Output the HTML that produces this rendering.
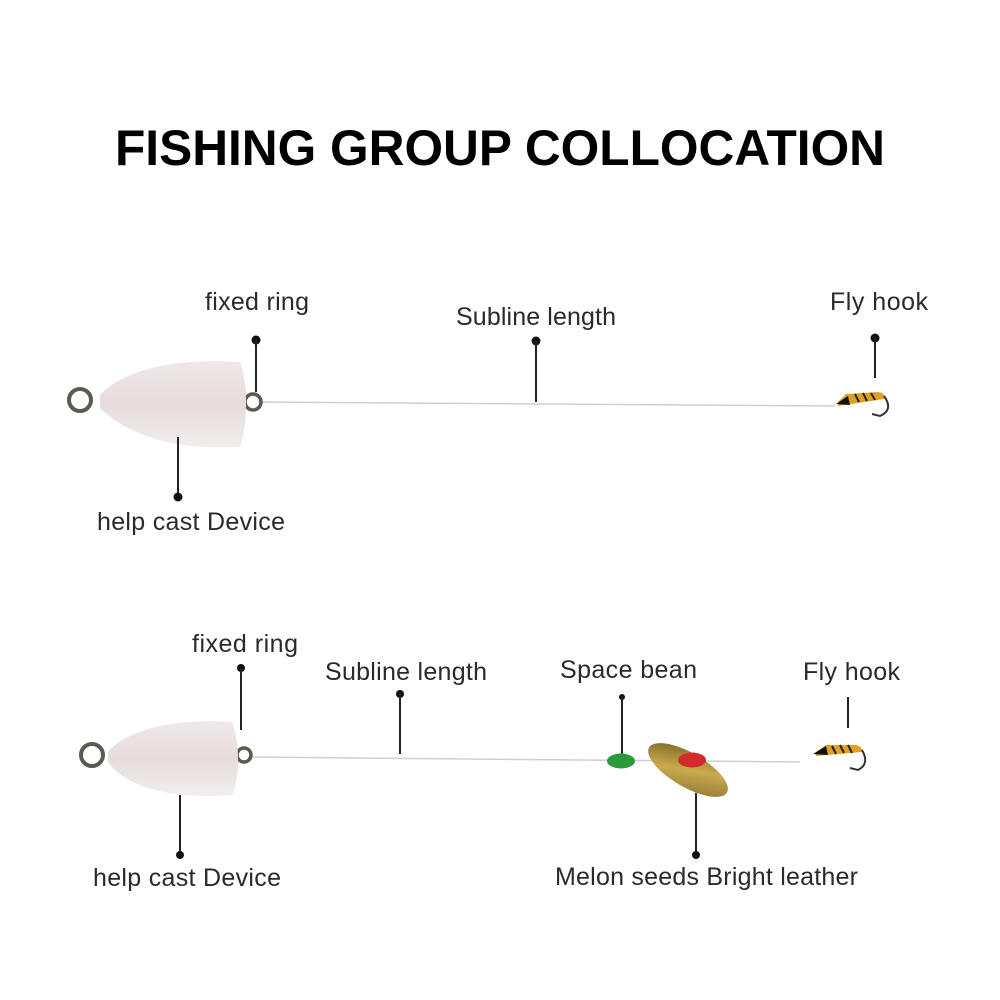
<!DOCTYPE html>
<html><head><meta charset="utf-8"><style>
html,body{margin:0;padding:0;background:#fff;}
svg{display:block}
.t{font-family:"Liberation Sans",sans-serif;font-size:25px;fill:#2a2a2a;font-weight:normal;}
.h{font-family:"Liberation Sans",sans-serif;font-size:50px;font-weight:bold;fill:#000;}
</style></head><body>
<svg width="1000" height="1000" viewBox="0 0 1000 1000" xmlns="http://www.w3.org/2000/svg">
<defs>
<linearGradient id="w" x1="0" y1="0" x2="0" y2="1">
<stop offset="0" stop-color="#efe8ea"/><stop offset="0.5" stop-color="#e6dcdc"/><stop offset="1" stop-color="#f2eeee"/></linearGradient>
<linearGradient id="g" x1="0" y1="0" x2="1" y2="1">
<stop offset="0" stop-color="#6f5a1e"/><stop offset="0.5" stop-color="#c9aa4e"/><stop offset="1" stop-color="#8a7030"/></linearGradient>
</defs>
<text class="h" x="500" y="165" text-anchor="middle" textLength="770" lengthAdjust="spacingAndGlyphs">FISHING GROUP COLLOCATION</text>

<!-- top group -->
<line x1="258" y1="402" x2="835" y2="406" stroke="#cfcfcf" stroke-width="1.5"/>
<circle cx="80" cy="400" r="11" fill="none" stroke="#5a5a50" stroke-width="4"/>
<circle cx="253" cy="402" r="8" fill="none" stroke="#5a5a50" stroke-width="3.5"/>
<path d="M100,395 C125,368 180,358 240,362 C248,380 248,425 240,447 C190,450 135,442 100,408 Z" fill="url(#w)"/>
<text class="t" x="205" y="310" textLength="104">fixed ring</text>
<circle cx="256" cy="340" r="4.5" fill="#111"/><line x1="256" y1="340" x2="256" y2="392" stroke="#222" stroke-width="2"/>
<text class="t" x="456" y="325" textLength="160">Subline length</text>
<circle cx="536" cy="341" r="4.5" fill="#111"/><line x1="536" y1="341" x2="536" y2="402" stroke="#222" stroke-width="2"/>
<text class="t" x="830" y="310" textLength="98">Fly hook</text>
<circle cx="875" cy="338" r="4.5" fill="#111"/><line x1="875" y1="338" x2="875" y2="378" stroke="#222" stroke-width="2"/>
<path d="M838,402 L846,394 L878,392 Q886,393 884,399 L838,406Z" fill="#e0a020"/>
<path d="M855,394 l4,8 M863,393 l4,8 M871,393 l4,7" stroke="#222" stroke-width="2"/>
<path d="M836,404 L848,396 L850,405Z" fill="#111"/>
<path d="M884,396 Q894,410 880,416 L872,414" fill="none" stroke="#333" stroke-width="2"/>
<line x1="178" y1="437" x2="178" y2="497" stroke="#222" stroke-width="2"/><circle cx="178" cy="497" r="4.5" fill="#111"/>
<text class="t" x="97" y="530" textLength="188">help cast Device</text>

<!-- bottom group -->
<line x1="248" y1="757" x2="800" y2="762" stroke="#cfcfcf" stroke-width="1.5"/>
<circle cx="92" cy="755" r="11" fill="none" stroke="#5a5a50" stroke-width="4"/>
<circle cx="244" cy="755" r="7" fill="none" stroke="#5a5a50" stroke-width="3.5"/>
<path d="M108,752 C128,728 180,718 232,722 C240,740 240,780 232,795 C180,800 128,790 108,762 Z" fill="url(#w)"/>
<text class="t" x="192" y="652" textLength="106">fixed ring</text>
<circle cx="241" cy="668" r="4" fill="#111"/><line x1="241" y1="668" x2="241" y2="730" stroke="#222" stroke-width="2"/>
<text class="t" x="325" y="680" textLength="162">Subline length</text>
<circle cx="400" cy="694" r="4" fill="#111"/><line x1="400" y1="694" x2="400" y2="754" stroke="#222" stroke-width="2"/>
<text class="t" x="560" y="678" textLength="137">Space bean</text>
<circle cx="622" cy="697" r="3" fill="#111"/><line x1="622" y1="697" x2="622" y2="755" stroke="#222" stroke-width="2"/>
<ellipse cx="621" cy="761" rx="14" ry="7.5" fill="#2a9a3a"/>
<ellipse cx="688" cy="770" rx="45" ry="17" transform="rotate(30 688 770)" fill="url(#g)"/>
<ellipse cx="692" cy="760" rx="14" ry="7.5" fill="#d42a2a"/>
<line x1="696" y1="793" x2="696" y2="855" stroke="#222" stroke-width="2"/><circle cx="696" cy="855" r="4" fill="#111"/>
<text class="t" x="555" y="885" textLength="303">Melon seeds Bright leather</text>
<text class="t" x="803" y="680" textLength="97">Fly hook</text>
<line x1="848" y1="697" x2="848" y2="728" stroke="#222" stroke-width="2"/>
<path d="M816,752 L826,745 L856,745 Q863,747 862,752 L816,756Z" fill="#e0a020"/>
<path d="M832,746 l4,8 M840,745 l4,8 M848,745 l4,8" stroke="#222" stroke-width="2"/>
<path d="M813,754 L826,746 L828,755Z" fill="#111"/>
<path d="M862,750 Q870,764 858,770 L850,768" fill="none" stroke="#333" stroke-width="2"/>
<line x1="180" y1="795" x2="180" y2="855" stroke="#222" stroke-width="2"/><circle cx="180" cy="855" r="4" fill="#111"/>
<text class="t" x="93" y="886" textLength="188">help cast Device</text>
</svg>
</body></html>
